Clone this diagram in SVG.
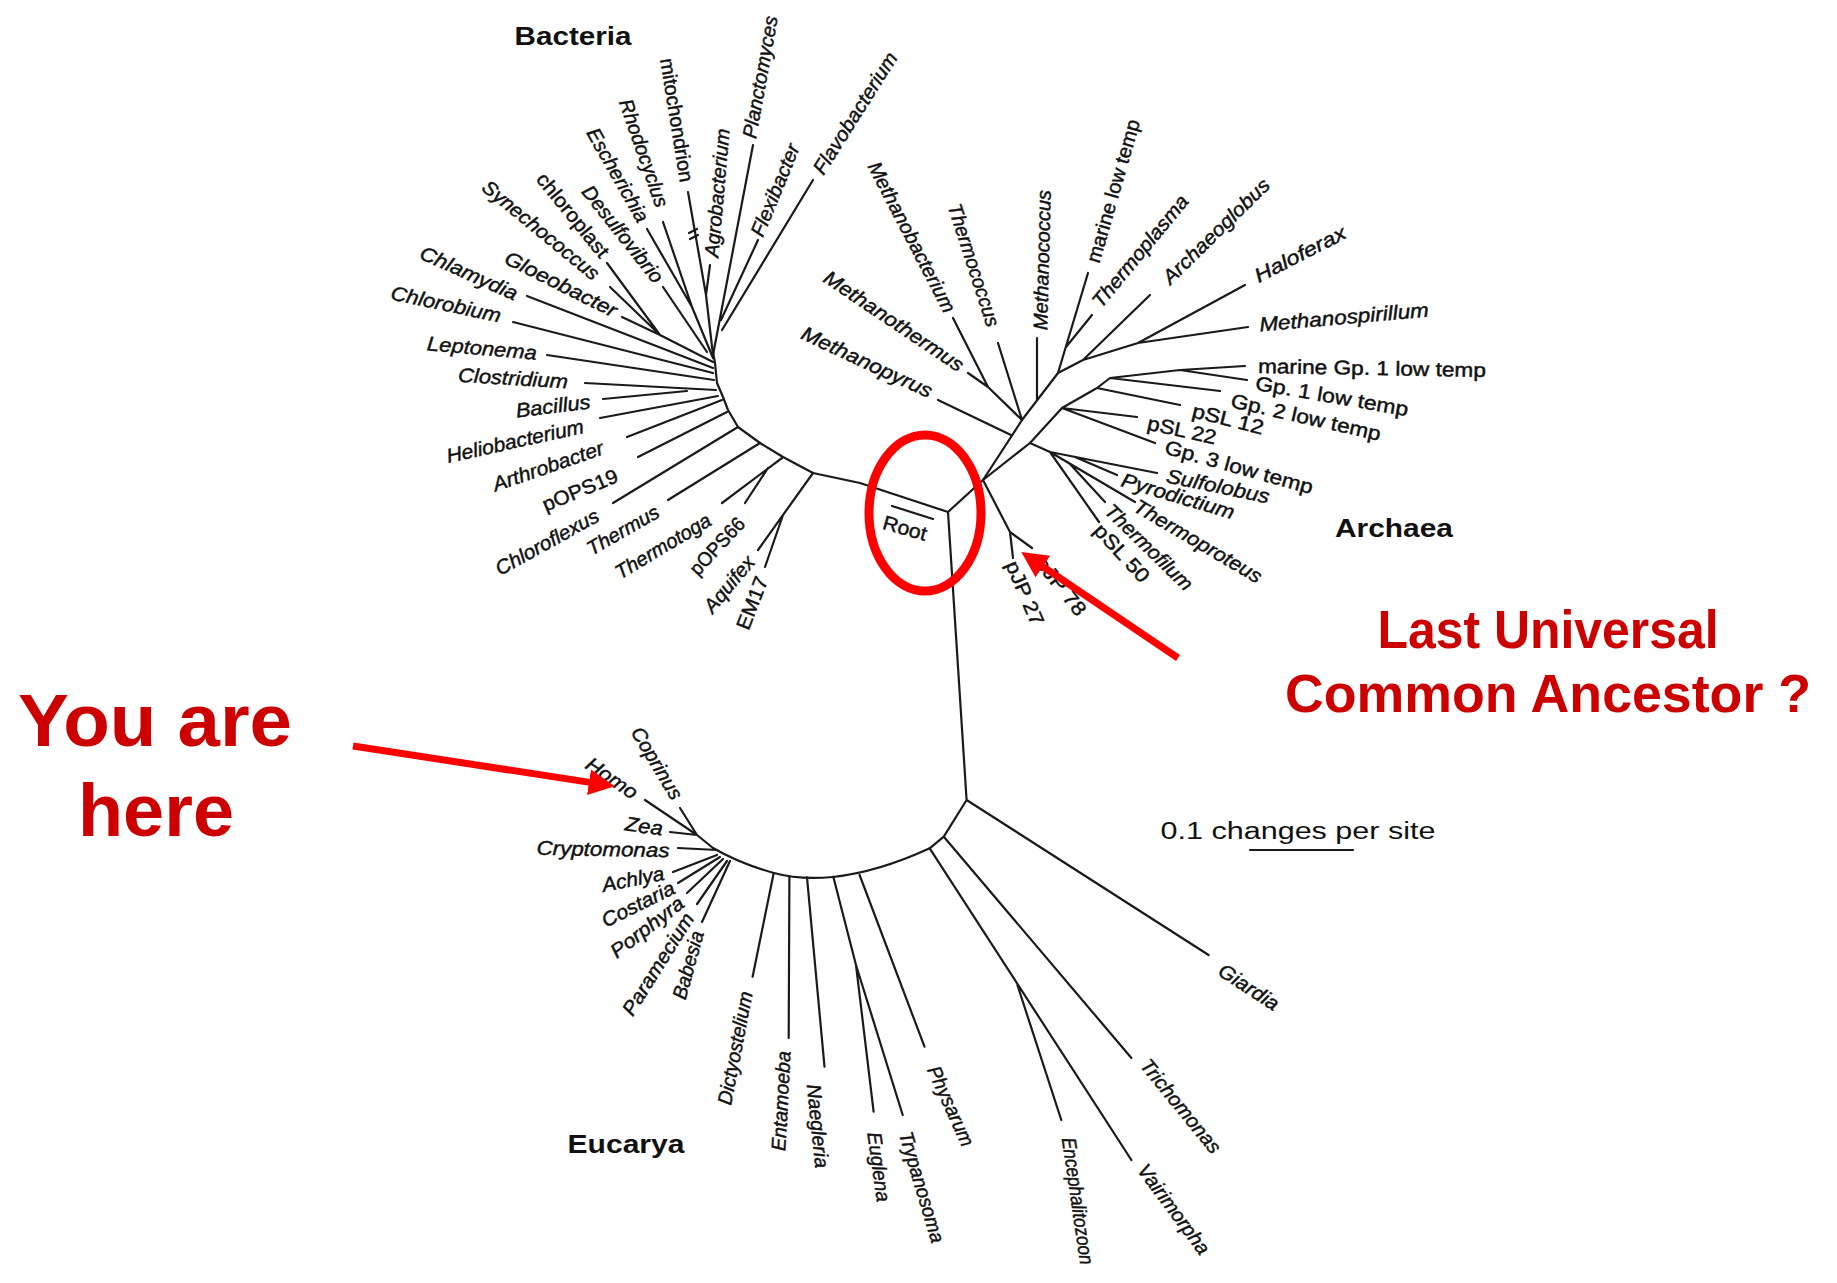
<svg xmlns="http://www.w3.org/2000/svg" width="1837" height="1283" viewBox="0 0 1837 1283">
<defs>
<style>
.b{stroke:#1a1a1a;stroke-width:2.2;fill:none;stroke-linecap:round;stroke-linejoin:round}
.t{font-family:"Liberation Sans",Arial,sans-serif;font-size:20px;font-style:italic;fill:#111;stroke:#111;stroke-width:0.45;text-anchor:middle;dominant-baseline:central}
.u{font-style:normal}
.d{font-family:"Liberation Sans",Arial,sans-serif;font-weight:bold;font-size:26px;fill:#111;text-anchor:middle}
.red{font-family:"Liberation Sans",Arial,sans-serif;font-weight:bold;fill:#CC0000;text-anchor:middle}
.arr{stroke:#FF0000;stroke-width:7;fill:none}
</style>
<marker id="head" markerUnits="userSpaceOnUse" markerWidth="26" markerHeight="26" viewBox="0 0 26 26" refX="1" refY="13" orient="auto">
<path d="M0,0 L26,13 L0,26 z" fill="#FF0000"/>
</marker>
</defs>
<rect width="1837" height="1283" fill="#fff"/>

<g id="connectors">
<!-- Bacteria backbone -->
<polyline class="b" points="948,512 860,483 813,473 783,457 760,443 738,427 728,410 723,397 717,383 715,363 713,352"/>
<path class="b" d="M753,145 L713,355 M758,240 L721,320 M813,180 L722,330"/>
<path class="b" d="M688,192 L706,295 L713,355 M710,265 L706,295"/>
<path class="b" d="M689,233 L697,229 M690,239 L698,235"/>
<path class="b" d="M663,222 L692,307 L713,358 M647,229 L692,307"/>
<path class="b" d="M663,287 L707,352"/>
<path class="b" d="M607,263 L660,335 M610,287 L660,335 M622,317 L660,335 L713,362"/>
<path class="b" d="M527,296 L713,368 M513,322 L713,373 M547,355 L714,380"/>
<path class="b" d="M585,383 L716,390 M603,399 L687,391 M600,418 L718,396 M627,437 L722,400 M638,457 L727,412"/>
<path class="b" d="M613,503 L738,427 M668,500 L760,443 M722,503 L782,458 M745,503 L768,468 M758,550 L813,473 M765,567 L783,515"/>
<!-- Archaea -->
<path class="b" d="M948,512 L983,480 L1022,420 L1058,373 L1083,360 L1138,343 L1245,285 M1138,343 L1248,327 M1083,360 L1150,295"/>
<path class="b" d="M983,480 L1010,532 L1013,558 M1010,532 L1032,548"/>
<path class="b" d="M938,400 L1011,435 M953,318 L988,387 L1022,420 M968,373 L988,387 M998,343 L1022,420 M1037,338 L1037,400"/>
<path class="b" d="M1088,273 L1058,373 M1092,315 L1066,347"/>
<path class="b" d="M983,480 L1030,443 L1062,408 L1097,388 L1110,378 L1180,370 L1245,366 M1180,370 L1247,380 M1110,378 L1220,391 M1097,388 L1180,405 M1062,408 L1137,417 M1062,408 L1155,443"/>
<path class="b" d="M1030,443 L1050,452 L1157,473 M1075,457 L1117,475 M1050,452 L1135,502 M1070,464 L1105,502 M1050,452 L1099,522"/>
<!-- Root bar -->
<path class="b" d="M892,506 L933,519"/>
<!-- Eucarya -->
<path class="b" d="M948,512 L966.6,800 L1208.6,955 M966.6,800 L943.8,836.7 L1131.4,1058 M943.8,836.7 L929.7,848.3 L1131.4,1160 M1017.4,985 L1061.3,1120"/>
<path class="b" d="M929.7,848.3 C900,862 870,873 833,877 C812,879 792,878 774,873 C752,867 732,859 713,848"/>
<path class="b" d="M859.6,875 L924.5,1046.7 M833.3,876.7 L856,965 L902.7,1115 M856,965 L873.6,1111.7 M807,877.3 L824.5,1066.7 M789.4,876.7 L788.7,1038 M773.7,873 L752.6,976.7"/>
<path class="b" d="M673,872 L717,855 M678,883 L720,857 M687,893 L723,859 M697,904 L727,861 M702,922 L730,861 M678,848 L717,850 M670,832 L697,835 M645,800 L697,835 L713,848 M680,808 L697,835"/>
<!-- scale bar -->
<path class="b" d="M1250,850 L1353,850"/>
</g>

<g id="domain-labels">
<text id="bacteria" class="d" x="573" y="45" textLength="117" lengthAdjust="spacingAndGlyphs">Bacteria</text>
<text id="archaea" class="d" x="1394" y="537" textLength="118" lengthAdjust="spacingAndGlyphs">Archaea</text>
<text id="eucarya" class="d" x="626" y="1153" textLength="117" lengthAdjust="spacingAndGlyphs">Eucarya</text>
</g>

<g id="bacteria-leaves">
<g id="n-chlamydia"><text class="t" x="469" y="273" transform="rotate(24 469 273)" textLength="105" lengthAdjust="spacingAndGlyphs">Chlamydia</text></g>
<g id="n-chlorobium"><text class="t" x="446" y="304" transform="rotate(12 446 304)" textLength="112" lengthAdjust="spacingAndGlyphs">Chlorobium</text></g>
<g id="n-leptonema"><text class="t" x="482" y="348" transform="rotate(5 482 348)" textLength="110" lengthAdjust="spacingAndGlyphs">Leptonema</text></g>
<g id="n-clostridium"><text class="t" x="513" y="378" transform="rotate(3.5 513 378)" textLength="110" lengthAdjust="spacingAndGlyphs">Clostridium</text></g>
<g id="n-bacillus"><text class="t" x="553" y="406" transform="rotate(-7 553 406)" textLength="75" lengthAdjust="spacingAndGlyphs">Bacillus</text></g>
<g id="n-heliobacterium"><text class="t" x="515" y="441" transform="rotate(-12.6 515 441)" textLength="140" lengthAdjust="spacingAndGlyphs">Heliobacterium</text></g>
<g id="n-arthrobacter"><text class="t" x="548" y="466" transform="rotate(-19 548 466)" textLength="116" lengthAdjust="spacingAndGlyphs">Arthrobacter</text></g>
<g id="n-pops19"><text class="t u" x="580" y="490" transform="rotate(-22.5 580 490)" textLength="80" lengthAdjust="spacingAndGlyphs">pOPS19</text></g>
<g id="n-chloroflexus"><text class="t" x="547" y="542" transform="rotate(-29 547 542)" textLength="115" lengthAdjust="spacingAndGlyphs">Chloroflexus</text></g>
<g id="n-thermus"><text class="t" x="623" y="530" transform="rotate(-30 623 530)" textLength="80" lengthAdjust="spacingAndGlyphs">Thermus</text></g>
<g id="n-thermotoga"><text class="t" x="663" y="546" transform="rotate(-31 663 546)" textLength="108" lengthAdjust="spacingAndGlyphs">Thermotoga</text></g>
<g id="n-pops66"><text class="t u" x="717" y="546" transform="rotate(-47 717 546)" textLength="71" lengthAdjust="spacingAndGlyphs">pOPS66</text></g>
<g id="n-aquifex"><text class="t" x="729" y="584" transform="rotate(-50 729 584)" textLength="67" lengthAdjust="spacingAndGlyphs">Aquifex</text></g>
<g id="n-em17"><text class="t u" x="752" y="603" transform="rotate(-68.6 752 603)" textLength="55" lengthAdjust="spacingAndGlyphs">EM17</text></g>
<g id="n-synechococcus"><text class="t" x="541" y="230" transform="rotate(39.4 541 230)" textLength="145" lengthAdjust="spacingAndGlyphs">Synechococcus</text></g>
<g id="n-chloroplast"><text class="t u" x="573" y="215" transform="rotate(51 573 215)" textLength="103" lengthAdjust="spacingAndGlyphs">chloroplast</text></g>
<g id="n-gloeobacter"><text class="t" x="561" y="284" transform="rotate(26.6 561 284)" textLength="123" lengthAdjust="spacingAndGlyphs">Gloeobacter</text></g>
<g id="n-desulfovibrio"><text class="t" x="623" y="234" transform="rotate(51.6 623 234)" textLength="118" lengthAdjust="spacingAndGlyphs">Desulfovibrio</text></g>
<g id="n-escherichia"><text class="t" x="618" y="175" transform="rotate(60.3 618 175)" textLength="105" lengthAdjust="spacingAndGlyphs">Escherichia</text></g>
<g id="n-rhodocyclus"><text class="t" x="644" y="153" transform="rotate(70.8 644 153)" textLength="113" lengthAdjust="spacingAndGlyphs">Rhodocyclus</text></g>
<g id="n-mitochondrion"><text class="t u" x="677" y="120" transform="rotate(80.8 677 120)" textLength="125" lengthAdjust="spacingAndGlyphs">mitochondrion</text></g>
<g id="n-agrobacterium"><text class="t" x="717" y="193" transform="rotate(-84.9 717 193)" textLength="129" lengthAdjust="spacingAndGlyphs">Agrobacterium</text></g>
<g id="n-planctomyces"><text class="t" x="760" y="77" transform="rotate(-79.8 760 77)" textLength="124" lengthAdjust="spacingAndGlyphs">Planctomyces</text></g>
<g id="n-flexibacter"><text class="t" x="775" y="190" transform="rotate(-67.6 775 190)" textLength="98" lengthAdjust="spacingAndGlyphs">Flexibacter</text></g>
<g id="n-flavobacterium"><text class="t" x="855" y="113" transform="rotate(-57.7 855 113)" textLength="140" lengthAdjust="spacingAndGlyphs">Flavobacterium</text></g>
</g>

<g id="archaea-leaves">
<g id="n-methanobacterium"><text class="t" x="912" y="237" transform="rotate(62.5 912 237)" textLength="167" lengthAdjust="spacingAndGlyphs">Methanobacterium</text></g>
<g id="n-thermococcus"><text class="t" x="974" y="265" transform="rotate(72 974 265)" textLength="128" lengthAdjust="spacingAndGlyphs">Thermococcus</text></g>
<g id="n-methanococcus"><text class="t" x="1042" y="260" transform="rotate(-88.5 1042 260)" textLength="140" lengthAdjust="spacingAndGlyphs">Methanococcus</text></g>
<g id="n-marinelow"><text class="t u" x="1113" y="191" transform="rotate(-74 1113 191)" textLength="148" lengthAdjust="spacingAndGlyphs">marine low temp</text></g>
<g id="n-thermoplasma"><text class="t" x="1140" y="251" transform="rotate(-50.5 1140 251)" textLength="139" lengthAdjust="spacingAndGlyphs">Thermoplasma</text></g>
<g id="n-archaeoglobus"><text class="t" x="1216" y="231" transform="rotate(-44.4 1216 231)" textLength="141" lengthAdjust="spacingAndGlyphs">Archaeoglobus</text></g>
<g id="n-haloferax"><text class="t" x="1300" y="254" transform="rotate(-27 1300 254)" textLength="100" lengthAdjust="spacingAndGlyphs">Haloferax</text></g>
<g id="n-methanospirillum"><text class="t" x="1344" y="317" transform="rotate(-5 1344 317)" textLength="170" lengthAdjust="spacingAndGlyphs">Methanospirillum</text></g>
<g id="n-marinegp1"><text class="t u" x="1372" y="368" transform="rotate(1 1372 368)" textLength="228" lengthAdjust="spacingAndGlyphs">marine Gp. 1 low temp</text></g>
<g id="n-gp1"><text class="t u" x="1332" y="396" transform="rotate(9.8 1332 396)" textLength="155" lengthAdjust="spacingAndGlyphs">Gp. 1 low temp</text></g>
<g id="n-gp2"><text class="t u" x="1306" y="417" transform="rotate(12.8 1306 417)" textLength="153" lengthAdjust="spacingAndGlyphs">Gp. 2 low temp</text></g>
<g id="n-psl12"><text class="t u" x="1228" y="419" transform="rotate(14 1228 419)" textLength="73" lengthAdjust="spacingAndGlyphs">pSL 12</text></g>
<g id="n-psl22"><text class="t u" x="1182" y="430" transform="rotate(12.3 1182 430)" textLength="70" lengthAdjust="spacingAndGlyphs">pSL 22</text></g>
<g id="n-gp3"><text class="t u" x="1239" y="467" transform="rotate(15.5 1239 467)" textLength="153" lengthAdjust="spacingAndGlyphs">Gp. 3 low temp</text></g>
<g id="n-sulfolobus"><text class="t" x="1218" y="486" transform="rotate(11.7 1218 486)" textLength="105" lengthAdjust="spacingAndGlyphs">Sulfolobus</text></g>
<g id="n-pyrodictium"><text class="t" x="1178" y="496" transform="rotate(16.5 1178 496)" textLength="117" lengthAdjust="spacingAndGlyphs">Pyrodictium</text></g>
<g id="n-thermoproteus"><text class="t" x="1198" y="541" transform="rotate(30.5 1198 541)" textLength="145" lengthAdjust="spacingAndGlyphs">Thermoproteus</text></g>
<g id="n-thermofilum"><text class="t" x="1149" y="547" transform="rotate(44.3 1149 547)" textLength="114" lengthAdjust="spacingAndGlyphs">Thermofilum</text></g>
<g id="n-psl50"><text class="t u" x="1122" y="553" transform="rotate(47.4 1122 553)" textLength="72" lengthAdjust="spacingAndGlyphs">pSL 50</text></g>
<g id="n-pjp27"><text class="t u" x="1025" y="593" transform="rotate(66.8 1025 593)" textLength="68" lengthAdjust="spacingAndGlyphs">pJP 27</text></g>
<g id="n-pjp78"><text class="t u" x="1061" y="586" transform="rotate(51.8 1061 586)" textLength="69" lengthAdjust="spacingAndGlyphs">pJP 78</text></g>
<g id="n-methanothermus"><text class="t" x="894" y="321" transform="rotate(33.9 894 321)" textLength="164" lengthAdjust="spacingAndGlyphs">Methanothermus</text></g>
<g id="n-methanopyrus"><text class="t" x="867" y="362" transform="rotate(25 867 362)" textLength="142" lengthAdjust="spacingAndGlyphs">Methanopyrus</text></g>
<g id="n-root"><text class="t u" x="905" y="528" transform="rotate(16 905 528)" textLength="45" lengthAdjust="spacingAndGlyphs">Root</text></g>
</g>

<g id="eucarya-leaves">
<g id="n-coprinus"><text class="t" x="657" y="763" transform="rotate(59 657 763)" textLength="81" lengthAdjust="spacingAndGlyphs">Coprinus</text></g>
<g id="n-homo"><text class="t" x="612" y="778" transform="rotate(34.3 612 778)" textLength="58" lengthAdjust="spacingAndGlyphs">Homo</text></g>
<g id="n-zea"><text class="t" x="644" y="826" transform="rotate(8 644 826)" textLength="38" lengthAdjust="spacingAndGlyphs">Zea</text></g>
<g id="n-cryptomonas"><text class="t" x="603" y="849" transform="rotate(1 603 849)" textLength="133" lengthAdjust="spacingAndGlyphs">Cryptomonas</text></g>
<g id="n-achlya"><text class="t" x="633" y="879" transform="rotate(-11 633 879)" textLength="63" lengthAdjust="spacingAndGlyphs">Achlya</text></g>
<g id="n-costaria"><text class="t" x="638" y="904" transform="rotate(-26.4 638 904)" textLength="79" lengthAdjust="spacingAndGlyphs">Costaria</text></g>
<g id="n-porphyra"><text class="t" x="647" y="927" transform="rotate(-37.6 647 927)" textLength="87" lengthAdjust="spacingAndGlyphs">Porphyra</text></g>
<g id="n-paramecium"><text class="t" x="658" y="964" transform="rotate(-57.9 658 964)" textLength="117" lengthAdjust="spacingAndGlyphs">Paramecium</text></g>
<g id="n-babesia"><text class="t" x="688" y="965" transform="rotate(-74.7 688 965)" textLength="70" lengthAdjust="spacingAndGlyphs">Babesia</text></g>
<g id="n-dictyostelium"><text class="t" x="735" y="1048" transform="rotate(-79.2 735 1048)" textLength="115" lengthAdjust="spacingAndGlyphs">Dictyostelium</text></g>
<g id="n-entamoeba"><text class="t" x="781" y="1101" transform="rotate(-87 781 1101)" textLength="100" lengthAdjust="spacingAndGlyphs">Entamoeba</text></g>
<g id="n-naegleria"><text class="t" x="818" y="1126" transform="rotate(84 818 1126)" textLength="84" lengthAdjust="spacingAndGlyphs">Naegleria</text></g>
<g id="n-euglena"><text class="t" x="879" y="1167" transform="rotate(82 879 1167)" textLength="70" lengthAdjust="spacingAndGlyphs">Euglena</text></g>
<g id="n-trypanosoma"><text class="t" x="922" y="1187" transform="rotate(73.4 922 1187)" textLength="115" lengthAdjust="spacingAndGlyphs">Trypanosoma</text></g>
<g id="n-physarum"><text class="t" x="951" y="1106" transform="rotate(65.5 951 1106)" textLength="86" lengthAdjust="spacingAndGlyphs">Physarum</text></g>
<g id="n-encephalitozoon"><text class="t" x="1078" y="1201" transform="rotate(81.7 1078 1201)" textLength="128" lengthAdjust="spacingAndGlyphs">Encephalitozoon</text></g>
<g id="n-vairimorpha"><text class="t" x="1174" y="1209" transform="rotate(53.5 1174 1209)" textLength="107" lengthAdjust="spacingAndGlyphs">Vairimorpha</text></g>
<g id="n-trichomonas"><text class="t" x="1181" y="1106" transform="rotate(50.8 1181 1106)" textLength="115" lengthAdjust="spacingAndGlyphs">Trichomonas</text></g>
<g id="n-giardia"><text class="t" x="1249" y="987" transform="rotate(33 1249 987)" textLength="68" lengthAdjust="spacingAndGlyphs">Giardia</text></g>
</g>

<g id="scale">
<text x="1298" y="839" font-family="Liberation Sans, Arial, sans-serif" font-size="23" fill="#111" text-anchor="middle" textLength="275" lengthAdjust="spacingAndGlyphs">0.1 changes per site</text>
</g>

<g id="annotations">
<ellipse cx="925" cy="513" rx="56" ry="78" fill="none" stroke="#FF0000" stroke-width="9"/>
<line class="arr" x1="1178" y1="658" x2="1042" y2="566" marker-end="url(#head)"/>
<line class="arr" x1="353" y1="746" x2="590" y2="782.4" marker-end="url(#head)"/>
<text class="red" x="155" y="746" font-size="75" textLength="274" lengthAdjust="spacingAndGlyphs">You are</text>
<text class="red" x="156" y="836" font-size="75" textLength="156" lengthAdjust="spacingAndGlyphs">here</text>
<text class="red" x="1548" y="648" font-size="53" textLength="341" lengthAdjust="spacingAndGlyphs">Last Universal</text>
<text class="red" x="1548" y="712" font-size="53" textLength="526" lengthAdjust="spacingAndGlyphs">Common Ancestor ?</text>
</g>
</svg>
